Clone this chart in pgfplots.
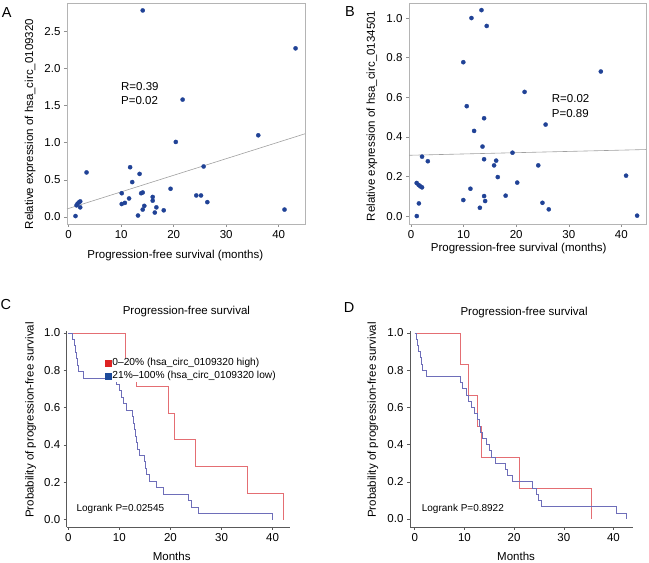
\documentclass[border=0pt]{standalone}
\usepackage{fontspec}
\setmainfont{Liberation Sans}
\usepackage{pgfplots}
\pgfplotsset{compat=1.18}
\definecolor{dotblue}{RGB}{32,66,150}
\definecolor{reggray}{RGB}{160,160,160}
\definecolor{boxgray}{RGB}{180,180,180}
\definecolor{kmred}{RGB}{228,110,115}
\definecolor{kmblue}{RGB}{110,110,185}
\definecolor{legred}{RGB}{222,35,35}
\definecolor{legblue}{RGB}{30,75,155}
\pgfplotsset{
  base/.style={scale only axis,
    font=\fontsize{11.5}{13}\selectfont,
    tick label style={font=\fontsize{11.5}{13}\selectfont},
    /pgf/number format/assume math mode=true,
    tick align=outside, tick pos=left, major tick length=3pt,
    xtick={0,10,20,30,40}},
  scat/.style={base, axis line style={draw=boxgray},
    tick style={draw=boxgray!80!black, line width=0.5pt},
    yticklabel style={/pgf/number format/.cd, fixed, fixed zerofill, precision=1}},
  km/.style={base, axis x line*=bottom, axis y line*=left,
    axis line style={draw=black!65, line width=0.5pt},
    tick style={draw=black!65, line width=0.5pt},
    ytick={0,0.2,0.4,0.6,0.8,1.0},
    yticklabel style={/pgf/number format/.cd, fixed, fixed zerofill, precision=1},
    xlabel={Months}, ylabel={Probability of progression-free survival},
    clip=false},
  dots/.style={only marks, mark=*, mark size=2.1pt, mark options={fill=dotblue, draw=dotblue, line width=0.3pt}},
}
\begin{document}
\begin{tikzpicture}
\useasboundingbox (0pt,0pt) rectangle (649pt,563pt);
% ---------- A ----------
\begin{axis}[scat, at={(67pt,339pt)}, anchor=south west, width=238pt, height=221pt,
  xmin=-0.32, xmax=45.0, ymin=-0.094, ymax=2.88,
  ytick={0,0.5,1.0,1.5,2.0,2.5},
  xlabel={Progression-free survival (months)},
  ylabel={Relative expression of hsa\_circ\_0109320},
  xlabel style={at={(axis description cs:0.455,-0.142)}, anchor=center},
  ylabel style={at={(axis description cs:-0.155,0.452)}, anchor=center}]
\addplot[reggray, line width=0.6pt] coordinates {(-0.32,0.108) (45,1.12)};
\addplot[dots] coordinates {
(14.1,2.78) (43.2,2.27) (21.7,1.58) (20.4,1.01) (36.1,1.10) (25.7,0.68) (11.7,0.67)
(3.4,0.60) (13.5,0.58) (12.1,0.47) (19.4,0.38) (10.1,0.32) (14.1,0.33) (13.8,0.32)
(24.3,0.29) (25.2,0.29) (26.4,0.20) (16.0,0.27) (16.0,0.22) (11.5,0.25) (10.1,0.175)
(10.7,0.19) (14.4,0.15) (14.1,0.10) (16.7,0.13) (18.1,0.09) (16.4,0.06) (13.2,0.02)
(41.1,0.10) (1.3,0.013) (1.5,0.157) (1.7,0.18) (2.0,0.20) (2.2,0.21) (2.2,0.13)};
\node[anchor=west, inner sep=0pt] at (axis cs:9.96,1.75) {R=0.39};
\node[anchor=west, inner sep=0pt] at (axis cs:9.96,1.565) {P=0.02};
\end{axis}
% ---------- B ----------
\begin{axis}[scat, at={(409pt,339pt)}, anchor=south west, width=237pt, height=221pt,
  xmin=-0.38, xmax=44.69, ymin=-0.040, ymax=1.076,
  ytick={0,0.2,0.4,0.6,0.8,1.0},
  xlabel={Progression-free survival (months)},
  ylabel={Relative expression of hsa\_circ\_0134501},
  xlabel style={at={(axis description cs:0.463,-0.11)}, anchor=center},
  ylabel style={at={(axis description cs:-0.157,0.489)}, anchor=center}]
\addplot[reggray, line width=0.6pt] coordinates {(-0.38,0.307) (44.69,0.336)};
\addplot[dots] coordinates {
(13.4,1.04) (11.5,1.0) (14.4,0.96) (9.95,0.777) (36.1,0.73) (21.6,0.627) (10.6,0.555)
(13.9,0.494) (25.6,0.462) (12.0,0.43) (13.6,0.351) (19.3,0.32) (2.1,0.30) (3.2,0.277)
(13.9,0.287) (16.2,0.28) (15.8,0.256) (24.2,0.256) (16.5,0.197) (40.9,0.204) (20.2,0.169)
(1.08,0.167) (1.46,0.157) (1.78,0.15) (2.1,0.145) (11.3,0.138) (13.9,0.101) (18.0,0.103)
(9.95,0.081) (14.1,0.076) (1.5,0.064) (25.0,0.067) (13.1,0.042) (26.2,0.034) (1.1,0.0)
(43.0,0.002)};
\node[anchor=west, inner sep=0pt] at (axis cs:26.76,0.592) {R=0.02};
\node[anchor=west, inner sep=0pt] at (axis cs:26.76,0.52) {P=0.89};
\end{axis}
% ---------- C ----------
\begin{axis}[km, at={(66.7pt,36pt)}, anchor=south west, width=223.3pt, height=196pt,
  xmin=-0.3, xmax=43.4, ymin=-0.039, ymax=1.01,
  xlabel style={at={(axis description cs:0.47,-0.152)}, anchor=center},
  ylabel style={at={(axis description cs:-0.161,0.546)}, anchor=center},
  legend style={draw=none, fill=white, inner sep=0pt, at={(axis cs:7.2,0.868)}, anchor=north west,
    font=\fontsize{10.2}{12}\selectfont, row sep=1.6pt,
    nodes={inner sep=1pt, text height=7pt, text depth=2.4pt}},
  legend cell align=left]
\addplot[kmred, line width=0.6pt, const plot, forget plot] coordinates {
(0,1) (11.2,0.857) (13.4,0.714) (19.6,0.571) (20.8,0.429) (24.8,0.286) (35.1,0.143) (42.0,0)};
\addplot[kmblue, line width=0.6pt, const plot, forget plot] coordinates {
(0,1) (0.85,0.966) (1.1,0.931) (1.3,0.897) (1.5,0.862) (1.76,0.828) (1.96,0.793) (2.9,0.759)
(9.46,0.724) (9.9,0.690) (10.4,0.655) (10.8,0.621) (11.3,0.586) (12.6,0.552) (12.8,0.517)
(13.0,0.483) (13.2,0.448) (13.4,0.414) (13.6,0.379) (13.9,0.345) (14.8,0.310) (15.1,0.276)
(15.3,0.241) (15.9,0.207) (17.3,0.172) (18.6,0.138) (23.5,0.103) (24.1,0.069) (25.5,0.034)
(40.0,0)};
\addlegendimage{legend image code/.code={\fill[legred] (0pt,-2.9pt) rectangle (5.8pt,2.9pt);}}
\addlegendentry{0–20\% (hsa\_circ\_0109320 high)}
\addlegendimage{legend image code/.code={\fill[legblue] (0pt,-2.9pt) rectangle (5.8pt,2.9pt);}}
\addlegendentry{21\%–100\% (hsa\_circ\_0109320 low)}
\node[anchor=west, inner sep=0pt, font=\fontsize{10}{12}\selectfont] at (axis cs:1.6,0.056) {Logrank P=0.02545};
\node[anchor=center, inner sep=0pt] at (axis description cs:0.536,1.097) {Progression-free survival};
\end{axis}
% ---------- D ----------
\begin{axis}[km, at={(410pt,36pt)}, anchor=south west, width=223.3pt, height=196pt,
  xmin=-0.95, xmax=44.0, ymin=-0.043, ymax=1.01,
  xlabel style={at={(axis description cs:0.475,-0.152)}, anchor=center},
  ylabel style={at={(axis description cs:-0.166,0.546)}, anchor=center}]
\addplot[kmred, line width=0.6pt, const plot] coordinates {
(0,1) (9.1,0.833) (10.8,0.667) (12.6,0.5) (13.5,0.333) (21.1,0.167) (35.5,0)};
\addplot[kmblue, line width=0.6pt, const plot] coordinates {
(0,1) (0.25,0.967) (0.5,0.933) (0.8,0.9) (1.1,0.867) (1.4,0.833) (1.6,0.8) (2.4,0.767)
(9.2,0.733) (9.6,0.7) (10.3,0.667) (10.8,0.633) (11.3,0.6) (12.0,0.567) (12.6,0.533)
(13.0,0.5) (13.3,0.467) (13.6,0.433) (14.4,0.4) (15.1,0.367) (15.5,0.333) (16.3,0.3)
(18.2,0.267) (18.7,0.233) (19.7,0.2) (23.6,0.167) (24.5,0.133) (24.9,0.1) (25.4,0.067)
(40.5,0.033) (42.6,0)};
\node[anchor=west, inner sep=0pt, font=\fontsize{10}{12}\selectfont] at (axis cs:1.4,0.054) {Logrank P=0.8922};
\node[anchor=center, inner sep=0pt] at (axis description cs:0.511,1.095) {Progression-free survival};
\end{axis}
% panel letters
\node[font=\fontsize{14.5}{15}\selectfont] at (6.7pt,550.7pt) {A};
\node[font=\fontsize{14.5}{15}\selectfont] at (350pt,551pt) {B};
\node[font=\fontsize{14.5}{15}\selectfont] at (5.8pt,258pt) {C};
\node[font=\fontsize{14.5}{15}\selectfont] at (349.2pt,255.5pt) {D};
\end{tikzpicture}
\end{document}
